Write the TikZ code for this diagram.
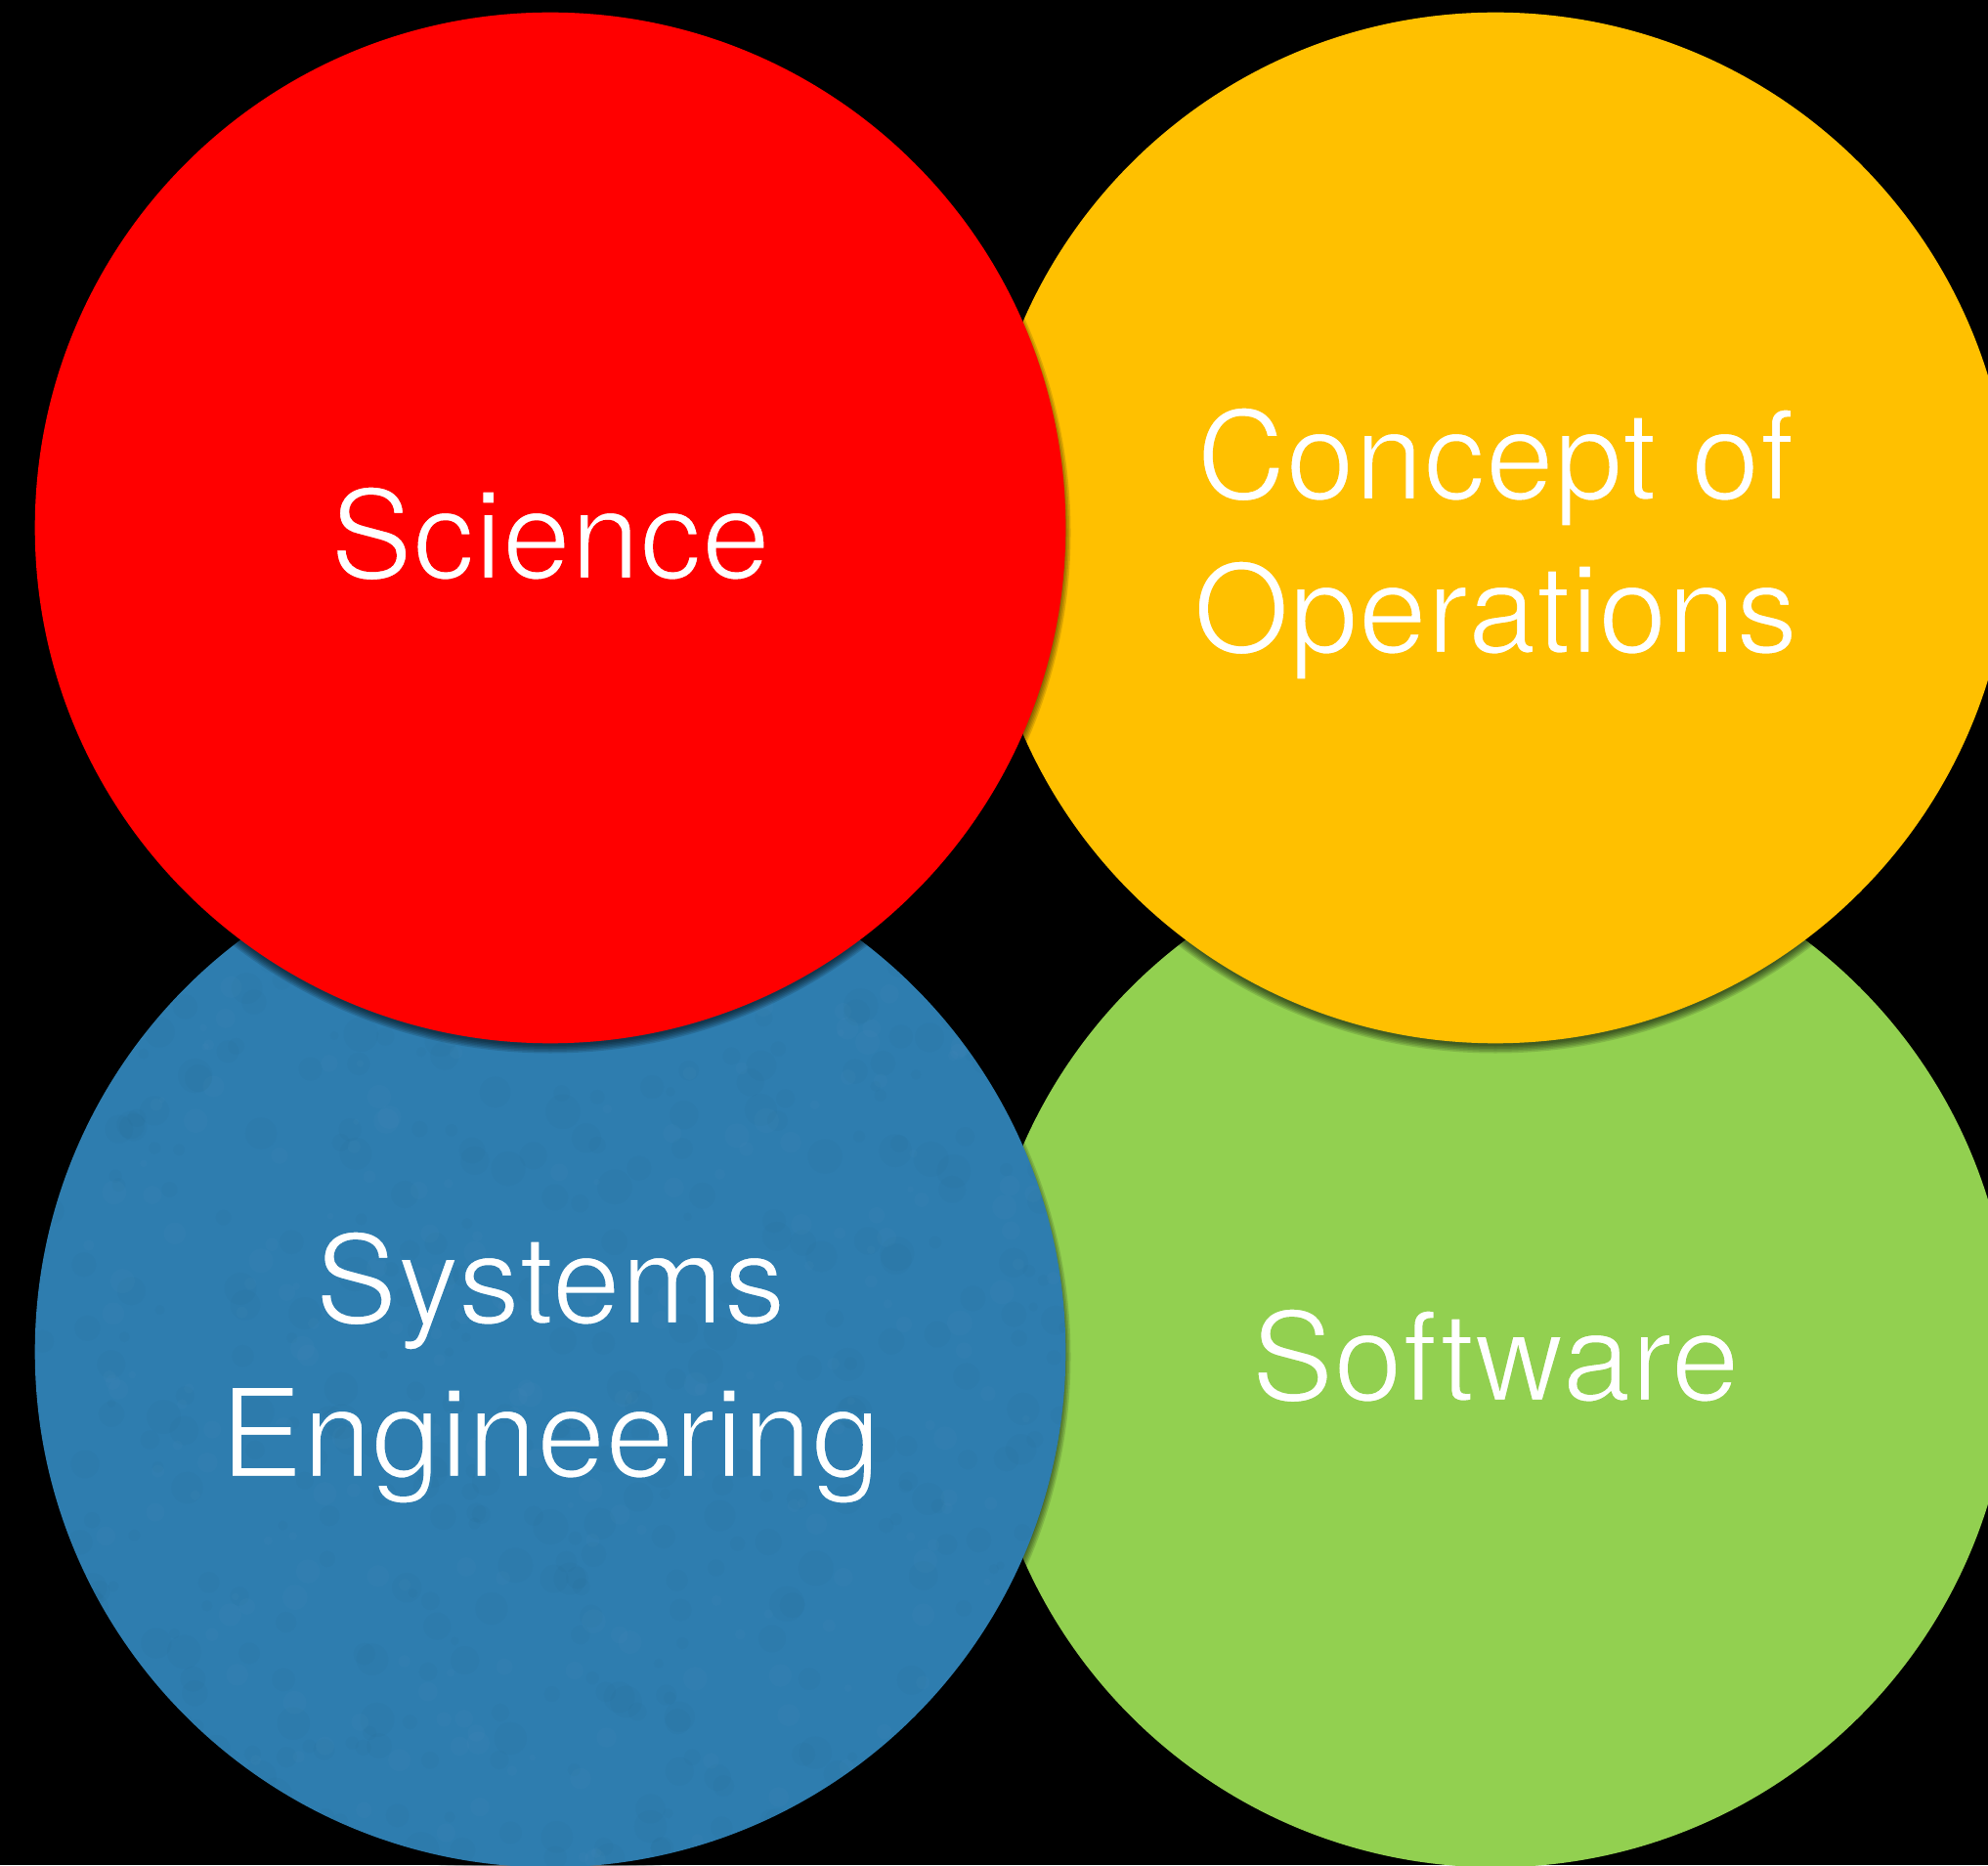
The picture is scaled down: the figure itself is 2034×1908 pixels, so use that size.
\documentclass[tikz,border=0pt]{standalone}
\usepackage{fontspec}
\setmainfont{TeX Gyre Heros}
\usetikzlibrary{calc}

\definecolor{sciRed}{RGB}{255,0,0}
\definecolor{opsAmber}{RGB}{255,192,0}
\definecolor{seBlue}{RGB}{46,125,175}
\definecolor{swGreen}{RGB}{146,208,80}

% soft shadow under a disc: stacked translucent discs, shifted down a little
\newcommand\discshadow[1]{%
  \foreach \dr in {-2,-0.5,1,2.5,4,5.5}
    \fill[black,opacity=0.12] ($(#1)+(0,-5)$) circle[radius=527+\dr];%
}
% lighter letters: outline each glyph in the colour of the disc behind it
\newcommand\lighttext[2]{%
  \special{pdf:literal direct #1 RG 0.7 w 2 Tr}#2\special{pdf:literal direct 0 Tr}}

\begin{document}
\begin{tikzpicture}[x=0.01cm,y=0.01cm,
  disc/.style={circle,inner sep=0pt,minimum size=10.54cm},
  lbl/.style={text=white,anchor=base,inner sep=0pt,
    font=\fontsize{36}{44}\selectfont}]
\fill[black] (0,0) rectangle (2034,1908);
\useasboundingbox (0,0) rectangle (2034,1908);
\clip (0,0) rectangle (2034,1908);

% disc centres
\coordinate (scic) at (563,1368);
\coordinate (opsc) at (1530,1368);
\coordinate (sec) at (563,525);
\coordinate (swc) at (1530,525);

% lower row
\node[disc,fill=swGreen] (soft) at (swc) {};
\discshadow{sec}
\node[disc,fill=seBlue] (syseng) at (sec) {};
% paper grain on the blue disc
\begin{scope}
  \clip (sec) circle[radius=527];
  \pgfmathsetseed{42}
  \foreach \i in {1,...,500}{
    \pgfmathsetmacro\px{36+1054*rnd}
    \pgfmathsetmacro\py{0+1054*rnd}
    \pgfmathsetmacro\pr{4+14*rnd}
    \fill[seBlue!75!black,opacity=0.06] (\px,\py) circle[radius=\pr];
  }
  \foreach \i in {1,...,300}{
    \pgfmathsetmacro\px{36+1054*rnd}
    \pgfmathsetmacro\py{0+1054*rnd}
    \pgfmathsetmacro\pr{3+10*rnd}
    \fill[seBlue!70!white,opacity=0.05] (\px,\py) circle[radius=\pr];
  }
\end{scope}

% upper row
\discshadow{opsc}
\node[disc,fill=opsAmber] (conops) at (opsc) {};
\discshadow{scic}
\node[disc,fill=sciRed] (sci) at (scic) {};

% labels
\node[lbl] (tsci) at ($(sci.center)+(0,-52)$) {\lighttext{1 0 0}{Science}};
\node[lbl] (tops1) at ($(conops.center)+(0,29)$) {\lighttext{1 0.753 0}{Concept of}};
\node[lbl] (tops2) at ($(conops.center)+(0,-128)$) {\lighttext{1 0.753 0}{Operations}};
\node[lbl] (tse1) at ($(syseng.center)+(0,29)$) {\lighttext{0.18 0.49 0.686}{Systems}};
\node[lbl] (tse2) at ($(syseng.center)+(0,-128)$) {\lighttext{0.18 0.49 0.686}{Engineering}};
\node[lbl] (tsw) at ($(soft.center)+(0,-50)$) {\lighttext{0.573 0.816 0.314}{Software}};
\end{tikzpicture}
\end{document}
